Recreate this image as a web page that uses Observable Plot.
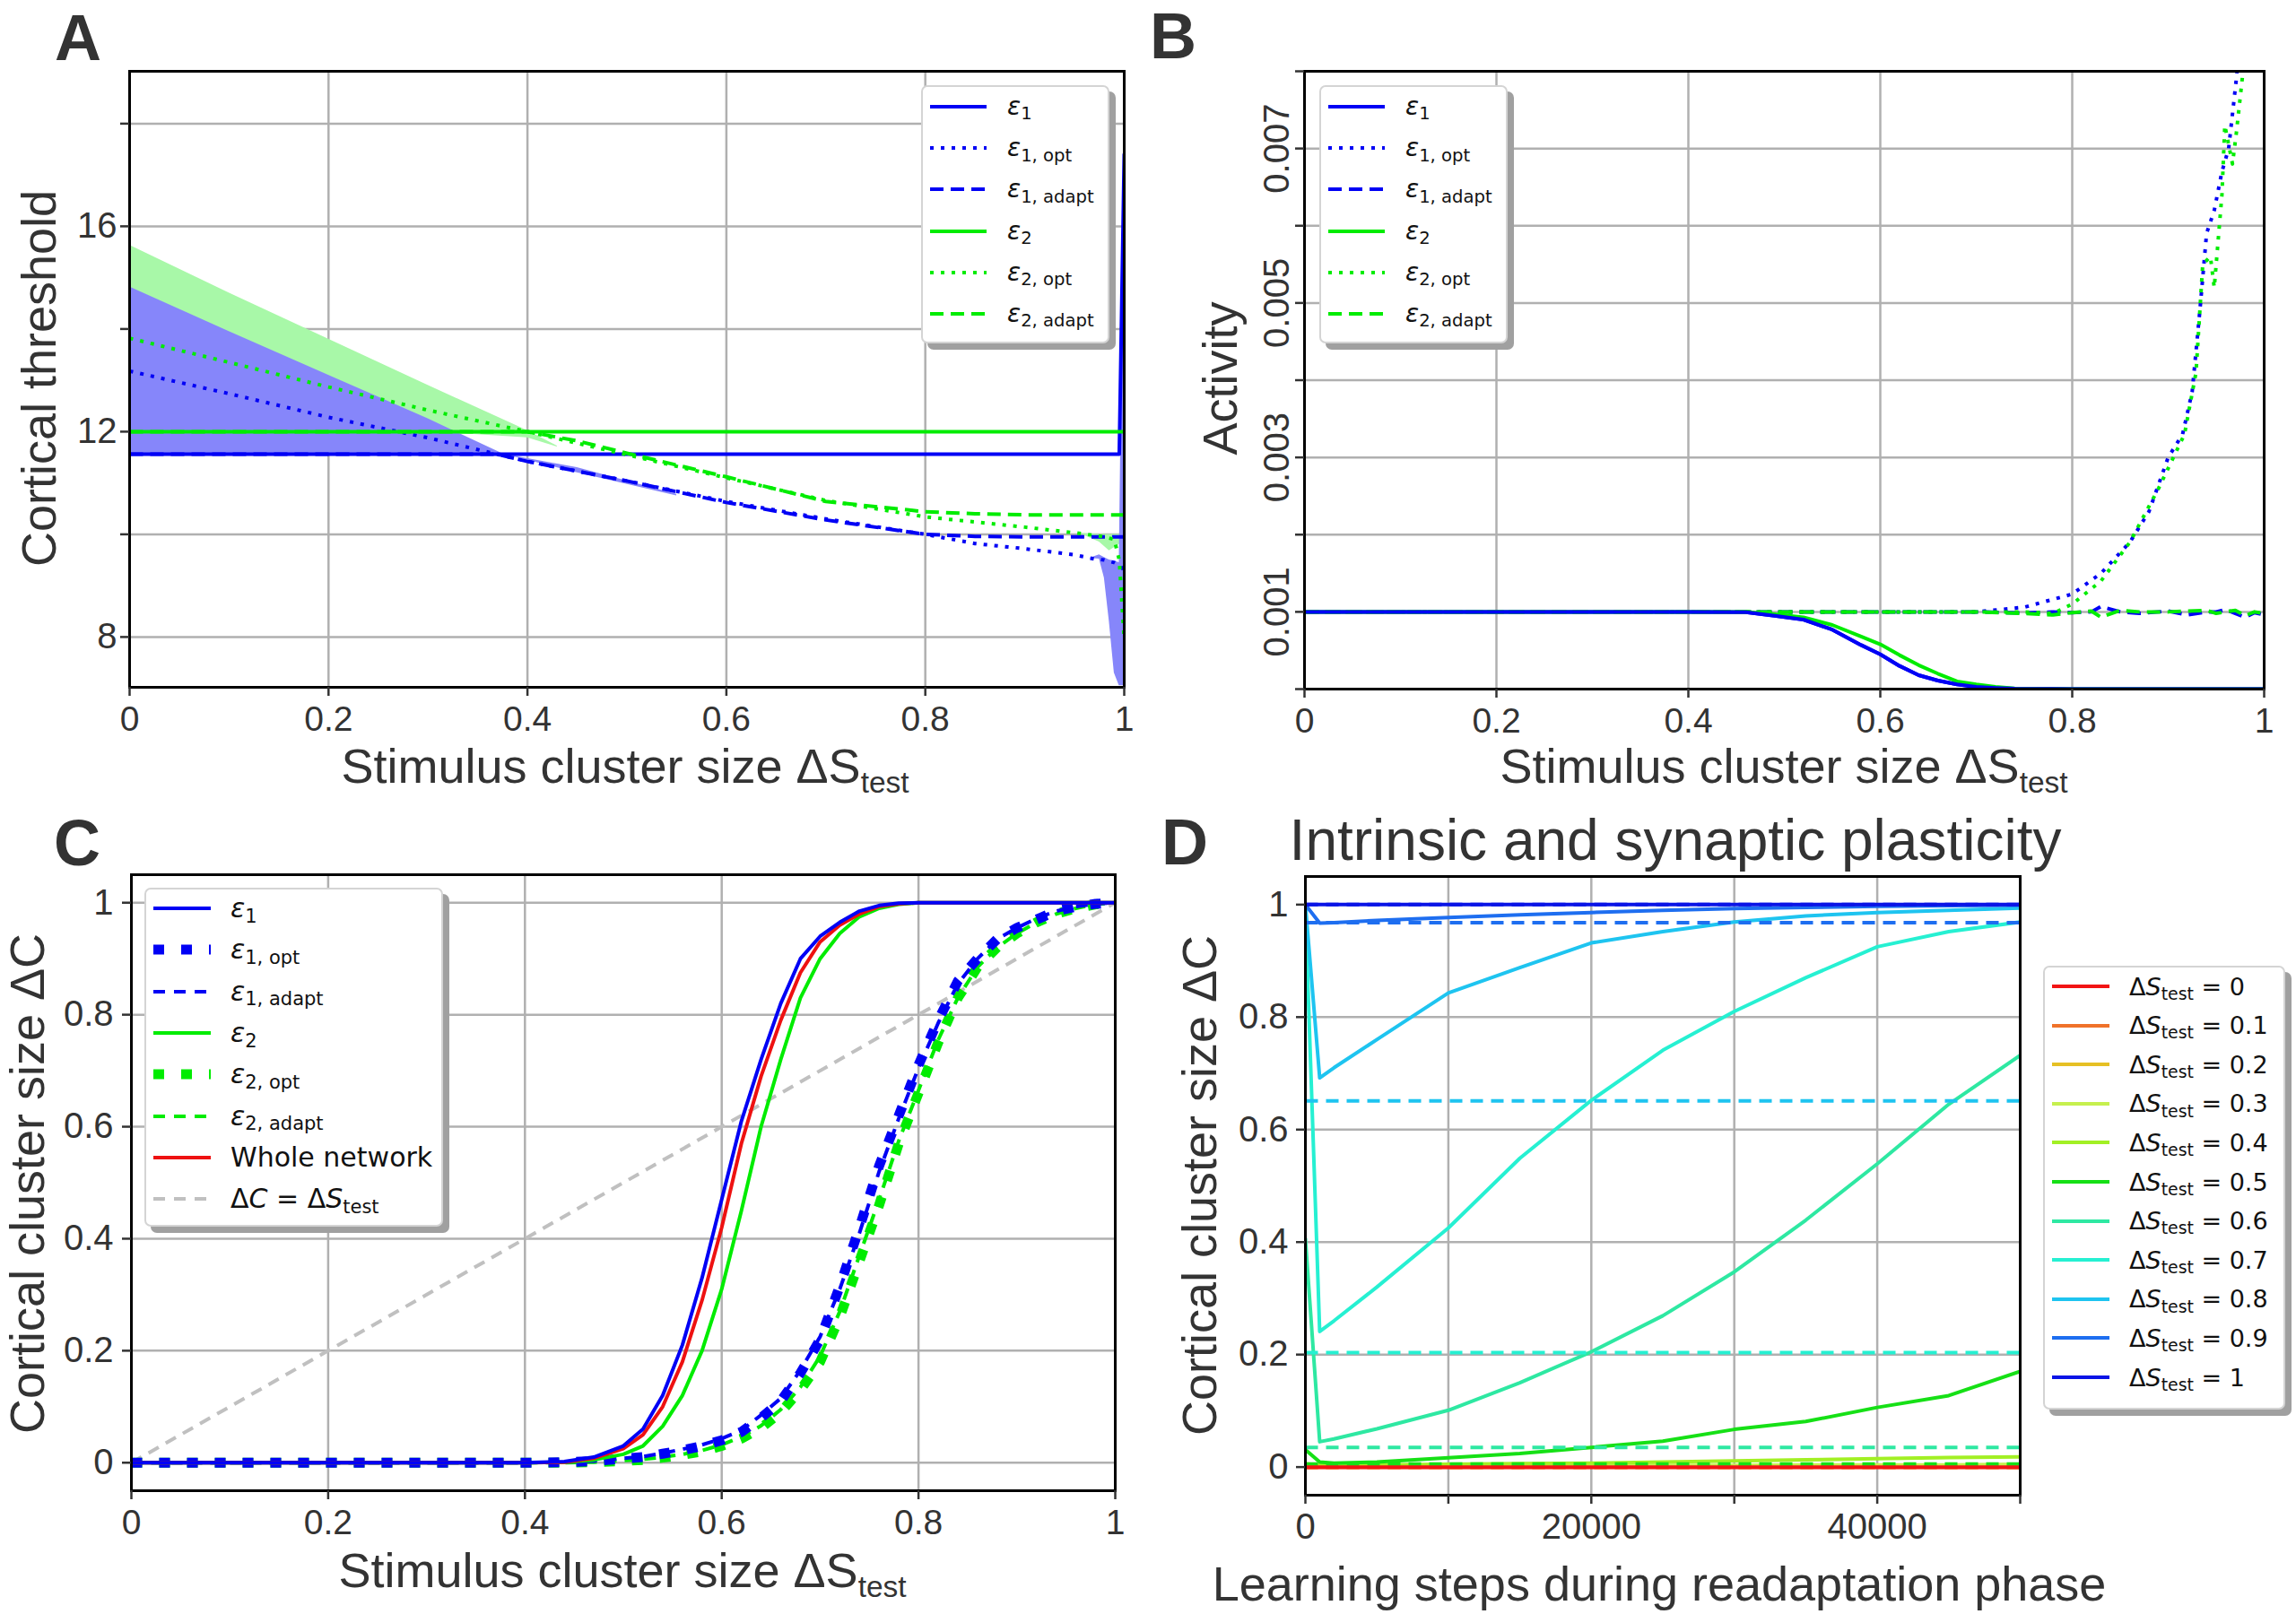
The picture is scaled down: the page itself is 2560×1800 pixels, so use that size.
<!DOCTYPE html>
<html>
<head>
<meta charset="utf-8">
<script src="https://cdn.jsdelivr.net/npm/d3@7"></script>
<script src="https://cdn.jsdelivr.net/npm/@observablehq/plot@0.6"></script>
<style>
html,body{margin:0;padding:0;background:#fff;}
#fig{position:relative;width:2560px;height:1800px;overflow:hidden;background:#fff;font-family:"Liberation Sans",Arial,sans-serif;}
.panel{position:absolute;width:1280px;height:900px;}
.lbl{position:absolute;white-space:nowrap;font-size:54px;line-height:0.9;color:#333;transform:translate(-50%,-50%);}
.lbl.rot{transform:translate(-50%,-50%) rotate(-90deg);}
.lbl .s{font-size:0.62em;position:relative;top:0.32em;}
.letter{position:absolute;font-weight:bold;font-size:72px;line-height:0.9;color:#333;transform:translate(-50%,-50%);}
.legend{position:absolute;box-sizing:border-box;background:#fff;border:2px solid #d4d4d4;border-radius:7px;box-shadow:7px 7px 0 #a0a0a0;font-family:"DejaVu Sans",sans-serif;color:#111;}
.legend .row{position:absolute;white-space:nowrap;line-height:1;}
.legend .sub{font-size:0.7em;position:relative;top:0.28em;}
.legend i{font-style:italic;}
</style>
</head>
<body>
<div id="fig"></div>
<script>
// ================= DATA =================
// shared x ticks for panels A-C
const xTicks01 = [0, 0.2, 0.4, 0.6, 0.8, 1];
const xTickLabels01 = ["0", "0.2", "0.4", "0.6", "0.8", "1"];

// ---- Panel A: cortical threshold ----
const aYTicks = [8, 10, 12, 14, 16, 18];
const aYTickLabels = ["8", "", "12", "", "16", ""];
const aE1X = [0, 0.995, 1.0];
const aE1 = [11.56, 11.56, 17.4];
const aE2X = [0, 1.0];
const aE2 = [12.0, 12.0];
const aOptX = [0, 0.1, 0.2, 0.3, 0.4, 0.5, 0.6, 0.7, 0.8, 0.85, 0.9, 0.95, 0.97, 0.98, 0.99, 0.995, 1.0];
const aE1Opt = [13.18, 12.74, 12.28, 11.88, 11.42, 11.04, 10.64, 10.3, 10.0, 9.82, 9.72, 9.6, 9.52, 9.5, 9.45, 9.4, 9.3];
const aE2Opt = [13.82, 13.35, 12.87, 12.42, 12.0, 11.55, 11.1, 10.66, 10.34, 10.24, 10.14, 10.03, 9.98, 9.95, 9.9, 9.5, 7.95];
const aAdaptX = [0, 0.37, 0.4, 0.45, 0.5, 0.6, 0.7, 0.8, 0.85, 0.9, 0.95, 1.0];
const aE1Adapt = [11.56, 11.56, 11.42, 11.23, 11.04, 10.62, 10.28, 10.0, 9.96, 9.95, 9.95, 9.95];
const aE2Adapt = [12.0, 12.0, 12.0, 11.82, 11.58, 11.12, 10.64, 10.44, 10.4, 10.38, 10.38, 10.38];
// shaded bands
const aGreenBandX = [0, 0.1, 0.2, 0.3, 0.4, 0.43];
const aGreenBandLo = [12, 12, 12, 12, 11.88, 11.7];
const aGreenBandHi = [15.63, 14.7, 13.8, 12.9, 12.02, 11.72];
const aGreenBand2X = [0.955, 0.975, 0.985, 0.995, 1.0];
const aGreenBand2Lo = [10.02, 9.85, 9.68, 9.8, 9.9];
const aGreenBand2Hi = [10.02, 10.0, 10.0, 10.0, 10.0];
const aBlueBandX = [0, 0.1, 0.2, 0.3, 0.376, 0.45, 0.55];
const aBlueBandLo = [11.56, 11.56, 11.56, 11.56, 11.56, 11.2, 10.75];
const aBlueBandHi = [14.82, 13.95, 13.1, 12.25, 11.56, 11.3, 10.78];
const aBlueBand2X = [0.965, 0.975, 0.98, 0.985, 0.99, 0.995, 1.0];
const aBlueBand2Lo = [9.53, 9.52, 9.15, 8.3, 7.3, 7.05, 7.05];
const aBlueBand2Hi = [9.53, 9.6, 9.55, 9.5, 9.48, 9.45, 17.4];

// ---- Panel B: activity ----
const bYTicks = [0, 0.001, 0.002, 0.003, 0.004, 0.005, 0.006, 0.007, 0.008];
const bYTickLabels = ["", "0.001", "", "0.003", "", "0.005", "", "0.007", ""];
const bX = [0, 0.2, 0.4, 0.46, 0.49, 0.52, 0.55, 0.58, 0.6, 0.62, 0.64, 0.66, 0.68, 0.7, 0.72, 0.74, 0.8, 1.0];
const bE1 = [0.001, 0.001, 0.001, 0.000995, 0.00095, 0.0009, 0.00077, 0.00057, 0.00045, 0.0003, 0.00018, 0.00011, 0.00006, 0.00003, 0.000015, 0.000005, 0, 0];
const bE2 = [0.001, 0.001, 0.001, 0.000998, 0.00097, 0.00093, 0.00083, 0.00068, 0.00058, 0.00044, 0.00031, 0.0002, 0.0001, 0.00006, 0.00003, 0.00001, 0, 0];
const bE1OptX = [0, 0.4, 0.7, 0.75, 0.8, 0.83, 0.86, 0.88, 0.9, 0.915, 0.925, 0.933, 0.94, 0.948, 0.956, 0.963, 0.971, 0.978];
const bE1Opt = [0.001, 0.001, 0.001, 0.00106, 0.00123, 0.0015, 0.0019, 0.0023, 0.003, 0.0033, 0.00385, 0.0049, 0.0059, 0.0062, 0.0067, 0.007, 0.0079, 0.0088];
const bE2OptX = [0, 0.4, 0.75, 0.78, 0.8, 0.83, 0.86, 0.89, 0.917, 0.929, 0.936, 0.944, 0.948, 0.956, 0.959, 0.967, 0.971, 0.978, 0.985];
const bE2Opt = [0.001, 0.001, 0.001, 0.00098, 0.0011, 0.0014, 0.0019, 0.0026, 0.0033, 0.0041, 0.0055, 0.0056, 0.0052, 0.0064, 0.0073, 0.0068, 0.0072, 0.008, 0.0088];
const bAdaptX = [0, 0.7, 0.75, 0.78, 0.8, 0.82, 0.83, 0.85, 0.87, 0.9, 0.92, 0.94, 0.95, 0.96, 0.97, 0.98, 0.99, 1.0];
const bE1Adapt = [0.001, 0.001, 0.000985, 0.001, 0.00099, 0.001, 0.00107, 0.001, 0.00098, 0.00101, 0.00096, 0.001, 0.001, 0.00103, 0.00098, 0.00093, 0.00099, 0.00096];
const bE2Adapt = [0.001, 0.001, 0.00098, 0.00096, 0.00099, 0.00101, 0.00093, 0.00102, 0.001, 0.001, 0.00101, 0.00102, 0.00098, 0.001, 0.00102, 0.00095, 0.001, 0.00098];

// ---- Panel C: cortical cluster size vs stimulus ----
const cYTicks = [0, 0.2, 0.4, 0.6, 0.8, 1];
const cYTickLabels = ["0", "0.2", "0.4", "0.6", "0.8", "1"];
const cX = [0, 0.1, 0.2, 0.3, 0.4, 0.44, 0.47, 0.5, 0.52, 0.54, 0.56, 0.58, 0.6, 0.62, 0.64, 0.66, 0.68, 0.7, 0.72, 0.74, 0.76, 0.78, 0.8, 0.82, 0.84, 0.86, 0.88, 0.9, 0.92, 0.94, 0.96, 0.98, 1.0];
const cE1 =     [0, 0, 0, 0, 0, 0.002, 0.01, 0.03, 0.06, 0.12, 0.21, 0.33, 0.47, 0.61, 0.72, 0.82, 0.9, 0.94, 0.965, 0.985, 0.995, 0.999, 1, 1, 1, 1, 1, 1, 1, 1, 1, 1, 1];
const cWhole =  [0, 0, 0, 0, 0, 0.001, 0.008, 0.025, 0.05, 0.1, 0.18, 0.29, 0.42, 0.57, 0.69, 0.79, 0.875, 0.93, 0.96, 0.98, 0.993, 0.998, 1, 1, 1, 1, 1, 1, 1, 1, 1, 1, 1];
const cE2 =     [0, 0, 0, 0, 0, 0.001, 0.005, 0.015, 0.03, 0.065, 0.12, 0.2, 0.31, 0.45, 0.6, 0.72, 0.83, 0.9, 0.945, 0.975, 0.99, 0.997, 1, 1, 1, 1, 1, 1, 1, 1, 1, 1, 1];
const cE1Opt =  [0, 0, 0, 0, 0, 0.001, 0.003, 0.007, 0.01, 0.016, 0.022, 0.03, 0.04, 0.055, 0.08, 0.11, 0.16, 0.22, 0.315, 0.42, 0.53, 0.62, 0.71, 0.79, 0.86, 0.9, 0.935, 0.955, 0.97, 0.985, 0.993, 0.998, 1];
const cE1Adapt = [0, 0, 0, 0, 0, 0.001, 0.003, 0.008, 0.011, 0.017, 0.024, 0.032, 0.043, 0.058, 0.085, 0.115, 0.165, 0.225, 0.31, 0.41, 0.52, 0.615, 0.705, 0.785, 0.855, 0.9, 0.935, 0.955, 0.972, 0.985, 0.993, 0.998, 1];
const cE2Opt =  [0, 0, 0, 0, 0, 0, 0.001, 0.003, 0.005, 0.009, 0.014, 0.02, 0.03, 0.043, 0.062, 0.09, 0.13, 0.18, 0.26, 0.36, 0.46, 0.57, 0.66, 0.75, 0.83, 0.885, 0.92, 0.945, 0.965, 0.98, 0.99, 0.997, 1];
const cE2Adapt = [0, 0, 0, 0, 0, 0, 0.001, 0.004, 0.006, 0.01, 0.015, 0.022, 0.032, 0.046, 0.066, 0.095, 0.135, 0.19, 0.27, 0.37, 0.47, 0.575, 0.665, 0.755, 0.83, 0.885, 0.92, 0.945, 0.965, 0.98, 0.99, 0.997, 1];
const cDiagX = [0, 1];
const cDiagY = [0, 1];

// ---- Panel D: readaptation ----
const dXTicks = [0, 10000, 20000, 30000, 40000, 50000];
const dXTickLabels = ["0", "", "20000", "", "40000", ""];
const dLevels = ["0", "0.1", "0.2", "0.3", "0.4", "0.5", "0.6", "0.7", "0.8", "0.9", "1"];
const dColors = ["#f21414", "#f0722a", "#e6c024", "#c6f04e", "#a2f024", "#16e016", "#2ee8a2", "#26f0d2", "#1ec4f0", "#1e6ef0", "#0a14e6"];
const dX = [0, 1000, 2000, 5000, 10000, 15000, 20000, 25000, 30000, 35000, 40000, 45000, 50000];
const dCurves = [
  [0, 0, 0, 0, 0, 0, 0, 0, 0, 0, 0, 0, 0],
  [0, 0, 0, 0, 0, 0, 0, 0, 0, 0, 0, 0, 0],
  [0.001, 0.001, 0.001, 0.001, 0.001, 0.001, 0.001, 0.001, 0.001, 0.001, 0.001, 0.001, 0.001],
  [0.002, 0.002, 0.002, 0.002, 0.002, 0.002, 0.003, 0.003, 0.003, 0.004, 0.004, 0.004, 0.005],
  [0.006, 0.004, 0.004, 0.004, 0.005, 0.006, 0.007, 0.009, 0.011, 0.013, 0.015, 0.017, 0.018],
  [0.031, 0.009, 0.007, 0.009, 0.0165, 0.024, 0.035, 0.046, 0.067, 0.081, 0.106, 0.127, 0.17],
  [0.406, 0.045, 0.05, 0.068, 0.101, 0.15, 0.205, 0.269, 0.347, 0.439, 0.539, 0.645, 0.732],
  [0.99, 0.241, 0.26, 0.32, 0.425, 0.549, 0.652, 0.741, 0.81, 0.87, 0.925, 0.952, 0.969],
  [1.0, 0.692, 0.71, 0.76, 0.843, 0.888, 0.932, 0.952, 0.969, 0.98, 0.986, 0.99, 0.994],
  [1.0, 0.967, 0.968, 0.972, 0.977, 0.982, 0.986, 0.99, 0.993, 0.995, 0.997, 0.998, 0.999],
  [1.0, 1.0, 1.0, 1.0, 1.0, 1.0, 1.0, 1.0, 1.0, 1.0, 1.0, 1.0, 1.0]
];
const dDashLevels = [0, 0, 0, 0.001, 0.002, 0.0055, 0.0347, 0.2035, 0.651, 0.968, 1.0];
const dDashX = [0, 50000];

// ================= HELPERS =================
const BLUE = "#0000f5", GREEN = "#00ec00";
const fig = document.getElementById("fig");
const pts = (xs, ys) => xs.map((x, i) => ({x, y: ys[i]}));
const band = (xs, lo, hi) => xs.map((x, i) => ({x, lo: lo[i], hi: hi[i]}));
const fmt = (ticks, labels) => d => { const i = ticks.indexOf(d); return i < 0 ? "" : labels[i]; };
const GRID = {stroke: "#b0b0b0", strokeOpacity: 1, strokeWidth: 2.5};
const plotStyle = {fontFamily: "Liberation Sans, Arial, sans-serif", color: "#333", background: "transparent", overflow: "visible"};

function place(el, left, top) {
  const d = document.createElement("div");
  d.className = "panel";
  d.style.left = left + "px"; d.style.top = top + "px";
  d.appendChild(el);
  fig.appendChild(d);
}
function label(html, x, y, rot, size) {
  const d = document.createElement("div");
  d.className = "lbl" + (rot ? " rot" : "");
  d.style.left = x + "px"; d.style.top = y + "px";
  if (size) d.style.fontSize = size + "px";
  d.innerHTML = html;
  fig.appendChild(d);
}
function letter(t, x, y) {
  const d = document.createElement("div");
  d.className = "letter"; d.textContent = t;
  d.style.left = x + "px"; d.style.top = y + "px";
  fig.appendChild(d);
}
function legend(o) {
  const box = document.createElement("div");
  box.className = "legend";
  box.style.left = o.left + "px"; box.style.top = o.top + "px";
  box.style.width = o.width + "px"; box.style.height = o.height + "px";
  box.style.fontSize = o.fs + "px";
  o.entries.forEach((e, i) => {
    const cy = o.row0 + i * o.step;
    box.insertAdjacentHTML("beforeend",
      `<svg style="position:absolute;left:${o.hx}px;top:${cy - 12}px;overflow:visible" width="${o.hw}" height="24"><line x1="0" x2="${o.hw}" y1="12" y2="12" stroke="${e.color}" stroke-width="${e.w}" ${e.dash ? `stroke-dasharray="${e.dash}"` : ""}/></svg>`);
    box.insertAdjacentHTML("beforeend",
      `<div class="row" style="left:${o.tx}px;top:${cy - o.fs * 0.5}px">${e.label}</div>`);
  });
  fig.appendChild(box);
}
const eps = (n, s) => `<i>ε</i><span class="sub">${n}${s ? ", " + s : ""}</span>`;
const DOT = "4,8", DASH = "15,8";

// ================= PANEL A =================
place(Plot.plot({
  width: 1280, height: 900,
  marginLeft: 144, marginRight: 27, marginTop: 79, marginBottom: 134,
  x: {domain: [0, 1]}, y: {domain: [7.02, 19.02]},
  style: plotStyle,
  marks: [
    Plot.gridX({ticks: xTicks01, ...GRID}),
    Plot.gridY({ticks: aYTicks, ...GRID}),
    Plot.areaY(band(aGreenBandX, aGreenBandLo, aGreenBandHi), {x: "x", y1: "lo", y2: "hi", fill: "#a8f8a8", clip: true}),
    Plot.areaY(band(aGreenBand2X, aGreenBand2Lo, aGreenBand2Hi), {x: "x", y1: "lo", y2: "hi", fill: "#a8f8a8", clip: true}),
    Plot.areaY(band(aBlueBandX, aBlueBandLo, aBlueBandHi), {x: "x", y1: "lo", y2: "hi", fill: "#8686fa", clip: true}),
    Plot.areaY(band(aBlueBand2X, aBlueBand2Lo, aBlueBand2Hi), {x: "x", y1: "lo", y2: "hi", fill: "#8686fa", clip: true}),
    Plot.line(pts(aE1X, aE1), {x: "x", y: "y", stroke: BLUE, strokeWidth: 4, clip: true}),
    Plot.line(pts(aOptX, aE1Opt), {x: "x", y: "y", stroke: BLUE, strokeWidth: 4, strokeDasharray: DOT, strokeLinecap: "butt", clip: true}),
    Plot.line(pts(aAdaptX, aE1Adapt), {x: "x", y: "y", stroke: BLUE, strokeWidth: 4, strokeDasharray: DASH, strokeLinecap: "butt", clip: true}),
    Plot.line(pts(aE2X, aE2), {x: "x", y: "y", stroke: GREEN, strokeWidth: 4, clip: true}),
    Plot.line(pts(aOptX, aE2Opt), {x: "x", y: "y", stroke: GREEN, strokeWidth: 4, strokeDasharray: DOT, strokeLinecap: "butt", clip: true}),
    Plot.line(pts(aAdaptX, aE2Adapt), {x: "x", y: "y", stroke: GREEN, strokeWidth: 4, strokeDasharray: DASH, strokeLinecap: "butt", clip: true}),
    Plot.frame({stroke: "#000", strokeWidth: 3}),
    Plot.axisX({ticks: xTicks01, tickFormat: fmt(xTicks01, xTickLabels01), tickSize: 10, tickPadding: 11, fontSize: 39, strokeWidth: 2.5, label: null}),
    Plot.axisY({ticks: aYTicks, tickFormat: fmt(aYTicks, aYTickLabels), tickSize: 10, tickPadding: 4, fontSize: 40, strokeWidth: 2.5, label: null})
  ]
}), 0, 0);

// ================= PANEL B =================
place(Plot.plot({
  width: 1280, height: 900,
  marginLeft: 174, marginRight: 36, marginTop: 79, marginBottom: 132,
  x: {domain: [0, 1]}, y: {domain: [0, 0.008]},
  style: plotStyle,
  marks: [
    Plot.gridX({ticks: xTicks01, ...GRID}),
    Plot.gridY({ticks: bYTicks, ...GRID}),
    Plot.line(pts(bX, bE1), {x: "x", y: "y", stroke: BLUE, strokeWidth: 4, clip: true}),
    Plot.line(pts(bE1OptX, bE1Opt), {x: "x", y: "y", stroke: BLUE, strokeWidth: 4, strokeDasharray: DOT, strokeLinecap: "butt", clip: true}),
    Plot.line(pts(bAdaptX, bE1Adapt), {x: "x", y: "y", stroke: BLUE, strokeWidth: 4, strokeDasharray: DASH, strokeLinecap: "butt", clip: true}),
    Plot.line(pts(bX, bE2), {x: "x", y: "y", stroke: GREEN, strokeWidth: 4, clip: true}),
    Plot.line(pts(bE2OptX, bE2Opt), {x: "x", y: "y", stroke: GREEN, strokeWidth: 4, strokeDasharray: DOT, strokeLinecap: "butt", clip: true}),
    Plot.line(pts(bAdaptX, bE2Adapt), {x: "x", y: "y", stroke: GREEN, strokeWidth: 4, strokeDasharray: DASH, strokeLinecap: "butt", clip: true}),
    Plot.line(pts(bX, bE1), {x: "x", y: "y", stroke: BLUE, strokeWidth: 4, clip: true}),
    Plot.frame({stroke: "#000", strokeWidth: 3}),
    Plot.axisX({ticks: xTicks01, tickFormat: fmt(xTicks01, xTickLabels01), tickSize: 10, tickPadding: 11, fontSize: 39, strokeWidth: 2.5, label: null}),
    Plot.axisY({ticks: bYTicks, tickFormat: fmt(bYTicks, bYTickLabels), tickRotate: -90, tickSize: 10, tickPadding: 8, fontSize: 40, strokeWidth: 2.5, label: null})
  ]
}), 1280, 0);

// ================= PANEL C =================
place(Plot.plot({
  width: 1280, height: 900,
  marginLeft: 146, marginRight: 37, marginTop: 75, marginBottom: 138,
  x: {domain: [0, 1]}, y: {domain: [-0.05, 1.05]},
  style: plotStyle,
  marks: [
    Plot.gridX({ticks: xTicks01, ...GRID}),
    Plot.gridY({ticks: cYTicks, ...GRID}),
    Plot.line(pts(cDiagX, cDiagY), {x: "x", y: "y", stroke: "#c0c0c0", strokeWidth: 4, strokeDasharray: "13,9", strokeLinecap: "butt", clip: true}),
    Plot.line(pts(cX, cE2Opt), {x: "x", y: "y", stroke: GREEN, strokeWidth: 11, strokeDasharray: "12,19", strokeLinecap: "butt", clip: true}),
    Plot.line(pts(cX, cE2Adapt), {x: "x", y: "y", stroke: GREEN, strokeWidth: 4, strokeDasharray: "13,9", strokeLinecap: "butt", clip: true}),
    Plot.line(pts(cX, cE1Opt), {x: "x", y: "y", stroke: BLUE, strokeWidth: 11, strokeDasharray: "12,19", strokeLinecap: "butt", clip: true}),
    Plot.line(pts(cX, cE1Adapt), {x: "x", y: "y", stroke: BLUE, strokeWidth: 4, strokeDasharray: "13,9", strokeLinecap: "butt", clip: true}),
    Plot.line(pts(cX, cE2), {x: "x", y: "y", stroke: GREEN, strokeWidth: 4, clip: true}),
    Plot.line(pts(cX, cWhole), {x: "x", y: "y", stroke: "#ee1111", strokeWidth: 4, clip: true}),
    Plot.line(pts(cX, cE1), {x: "x", y: "y", stroke: BLUE, strokeWidth: 4, clip: true}),
    Plot.frame({stroke: "#000", strokeWidth: 3}),
    Plot.axisX({ticks: xTicks01, tickFormat: fmt(xTicks01, xTickLabels01), tickSize: 10, tickPadding: 11, fontSize: 39, strokeWidth: 2.5, label: null}),
    Plot.axisY({ticks: cYTicks, tickFormat: fmt(cYTicks, cYTickLabels), tickSize: 10, tickPadding: 10, fontSize: 40, strokeWidth: 2.5, label: null})
  ]
}), 0, 900);

// ================= PANEL D =================
const dMarks = [];
dCurves.forEach((ys, k) => {
  dMarks.push(Plot.line(pts(dX, ys), {x: "x", y: "y", stroke: dColors[k], strokeWidth: 4, clip: true}));
});
dDashLevels.forEach((v, k) => {
  dMarks.push(Plot.line(pts(dDashX, [v, v]), {x: "x", y: "y", stroke: dColors[k], strokeWidth: 4, strokeDasharray: "14,9", strokeLinecap: "butt", clip: true}));
});
// redraw red baseline on top
dMarks.push(Plot.line(pts(dX, dCurves[0]), {x: "x", y: "y", stroke: dColors[0], strokeWidth: 4, clip: true}));
place(Plot.plot({
  width: 1280, height: 900,
  marginLeft: 175, marginRight: 308, marginTop: 77, marginBottom: 133,
  x: {domain: [0, 50000]}, y: {domain: [-0.05, 1.05]},
  style: plotStyle,
  marks: [
    Plot.gridX({ticks: dXTicks, ...GRID}),
    Plot.gridY({ticks: cYTicks, ...GRID}),
    ...dMarks,
    Plot.frame({stroke: "#000", strokeWidth: 3}),
    Plot.axisX({ticks: dXTicks, tickFormat: fmt(dXTicks, dXTickLabels), tickSize: 10, tickPadding: 10, fontSize: 40, strokeWidth: 2.5, label: null}),
    Plot.axisY({ticks: cYTicks, tickFormat: fmt(cYTicks, cYTickLabels), tickSize: 10, tickPadding: 9, fontSize: 40, strokeWidth: 2.5, label: null})
  ]
}), 1280, 900);

// ================= TEXT =================
const stest = 'Stimulus cluster size ΔS<span class="s">test</span>';
label(stest, 697, 854, false);
label("Cortical threshold", 43, 422, true);
label(stest, 1989, 854, false);
label("Activity", 1360, 422, true);
label(stest, 694, 1751, false);
label("Cortical cluster size ΔC", 30, 1320, true);
label("Learning steps during readaptation phase", 1850, 1766, false);
label("Cortical cluster size ΔC", 1337, 1322, true);
label("Intrinsic and synaptic plasticity", 1868, 938, false, 64);
letter("A", 87, 42);
letter("B", 1308, 40);
letter("C", 86, 940);
letter("D", 1321, 939);

// ================= LEGENDS =================
const abEntries = [
  {label: eps("1"), color: BLUE, w: 4},
  {label: eps("1", "opt"), color: BLUE, w: 4, dash: DOT},
  {label: eps("1", "adapt"), color: BLUE, w: 4, dash: DASH},
  {label: eps("2"), color: GREEN, w: 4},
  {label: eps("2", "opt"), color: GREEN, w: 4, dash: DOT},
  {label: eps("2", "adapt"), color: GREEN, w: 4, dash: DASH}
];
legend({left: 1027, top: 95, width: 210, height: 288, fs: 28, row0: 22, step: 46.2, hx: 8, hw: 63, tx: 94, entries: abEntries});
legend({left: 1471, top: 95, width: 210, height: 288, fs: 28, row0: 22, step: 46.2, hx: 8, hw: 63, tx: 94, entries: abEntries});
legend({left: 161, top: 990, width: 333, height: 378, fs: 30, row0: 21, step: 46.3, hx: 8, hw: 64, tx: 94, entries: [
  {label: eps("1"), color: BLUE, w: 4},
  {label: eps("1", "opt"), color: BLUE, w: 11, dash: "12,19"},
  {label: eps("1", "adapt"), color: BLUE, w: 4, dash: "13,10"},
  {label: eps("2"), color: GREEN, w: 4},
  {label: eps("2", "opt"), color: GREEN, w: 11, dash: "12,19"},
  {label: eps("2", "adapt"), color: GREEN, w: 4, dash: "13,10"},
  {label: "Whole network", color: "#ee1111", w: 4},
  {label: 'Δ<i>C</i> = Δ<i>S</i><span class="sub">test</span>', color: "#c0c0c0", w: 4, dash: "13,10"}
]});
legend({left: 2278, top: 1077, width: 270, height: 495, fs: 27, row0: 21, step: 43.6, hx: 8, hw: 64, tx: 94,
  entries: dLevels.map((v, k) => ({label: `Δ<i>S</i><span class="sub">test</span> = ${v}`, color: dColors[k], w: 4}))});
</script>
</body>
</html>
